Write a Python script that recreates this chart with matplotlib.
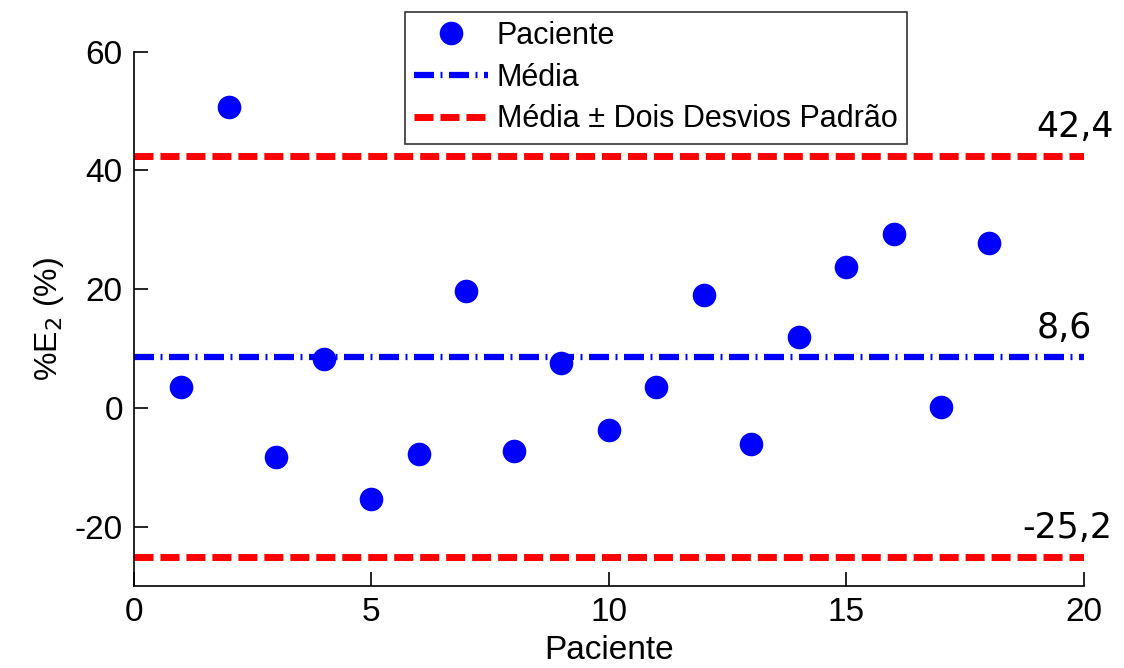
import matplotlib
matplotlib.use("Agg")
import matplotlib.pyplot as plt
import numpy as np

# values
pacientes = np.arange(1, 19)
erro = [3.5, 50.6, -8.2, 8.2, -15.3, -7.8, 19.7, -7.2, 7.5,
        -3.8, 3.5, 19.0, -6.1, 11.9, 23.7, 29.3, 0.1, 27.8]
media = 8.6
limite_sup = 42.4
limite_inf = -25.2
rotulos = ['42,4', '8,6', '-25,2']
rotulo_y = [limite_sup, media, limite_inf]
rotulo_x = [19.0, 19.0, 18.7]

plt.rcParams['font.family'] = ['Liberation Sans', 'DejaVu Sans']
plt.rcParams['lines.scale_dashes'] = False
plt.rcParams['axes.unicode_minus'] = False

fig = plt.figure(figsize=(11.24, 6.68), dpi=100)
ax = fig.add_axes([0.1192, 0.1228, 0.8452, 0.8001])

ax.plot(pacientes, erro, 'o', color='#0000ff', markersize=17,
        markeredgewidth=0, label='Paciente', zorder=3)
ax.plot([0, 20], [media, media], color='#0000ff', linewidth=4.5,
        dashes=(14.4, 4.7, 1.4, 4.7), label='Média')
ax.plot([0, 20], [limite_sup, limite_sup], color='#ff0000', linewidth=5,
        dashes=(13.7, 5.0), label='Média ± Dois Desvios Padrão')
ax.plot([0, 20], [limite_inf, limite_inf], color='#ff0000', linewidth=5,
        dashes=(13.7, 5.0))

for x, y, t in zip(rotulo_x, rotulo_y, rotulos):
    ax.text(x, y + 3.2, t, fontsize=25, family='DejaVu Sans',
            va='baseline', ha='left', clip_on=False)

ax.set_xlim(0, 20)
ax.set_ylim(-30, 60)
ax.set_xticks([0, 5, 10, 15, 20])
ax.set_yticks([-20, 0, 20, 40, 60])
ax.tick_params(direction='in', length=10, width=1.2, labelsize=24, pad=8)
ax.spines['top'].set_visible(False)
ax.spines['right'].set_visible(False)
for s in ['left', 'bottom']:
    ax.spines[s].set_linewidth(1.2)

ax.set_xlabel('Paciente', fontsize=24, labelpad=5)
ax.set_ylabel('%E$_2$ (%)', fontsize=23, labelpad=6)

leg = ax.legend(loc='upper center', bbox_to_anchor=(0.5836, 0.982),
                bbox_transform=fig.transFigure, fontsize=22, frameon=True,
                fancybox=False, edgecolor='black', handlelength=2.4,
                handletextpad=0.3, labelspacing=0.38, borderpad=0.3,
                borderaxespad=0)
leg.get_frame().set_linewidth(1.2)

fig.savefig('out.png', dpi=100)
